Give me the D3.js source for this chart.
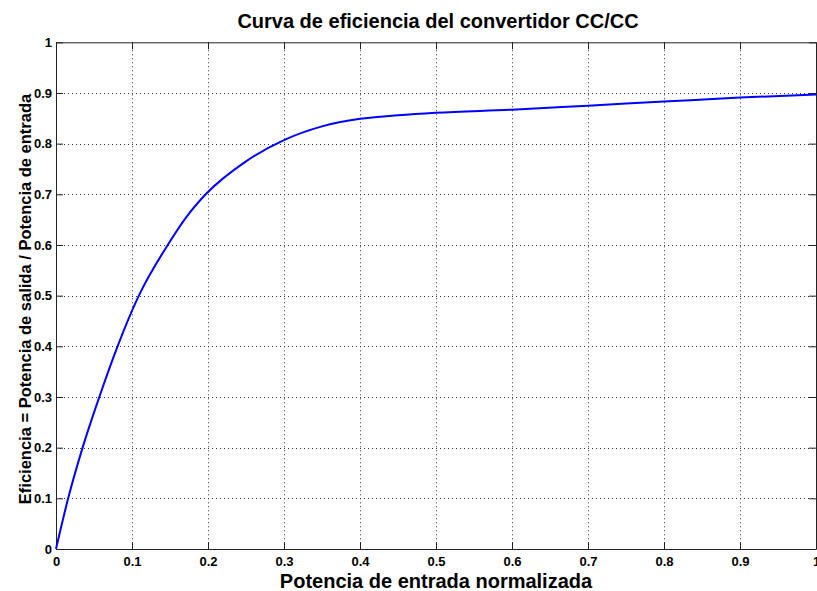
<!DOCTYPE html>
<html>
<head>
<meta charset="utf-8">
<script src="https://cdn.jsdelivr.net/npm/d3@7"></script>
<style>
  body { margin: 0; background: #fff; }
  svg { display: block; font-family: Arial, "Liberation Sans", sans-serif; }
</style>
</head>
<body>
<svg id="chart" width="817" height="591"></svg>
<script>
// normalized input power and efficiency
const potencia = [0, 0.016, 0.035, 0.057, 0.081, 0.109, 0.147, 0.172, 0.197, 0.25, 0.3, 0.35, 0.4, 0.45, 0.5, 0.6, 0.7, 0.8, 0.9, 1.0];
const eficiencia = [0, 0.1, 0.2, 0.3, 0.4, 0.5, 0.6, 0.656, 0.7, 0.765, 0.807, 0.834, 0.849, 0.856, 0.861, 0.867, 0.875, 0.883, 0.891, 0.897];

const xTicks = [0, 0.1, 0.2, 0.3, 0.4, 0.5, 0.6, 0.7, 0.8, 0.9, 1];
const yTicks = [0, 0.1, 0.2, 0.3, 0.4, 0.5, 0.6, 0.7, 0.8, 0.9, 1];

const titulo = "Curva de eficiencia del convertidor CC/CC";
const xLabel = "Potencia de entrada normalizada";
const yLabel = "Eficiencia = Potencia de salida / Potencia de entrada";

const svg = d3.select("#chart");
const mLeft = 56, mRight = 816, mTop = 42.3, mBottom = 549;

const x = d3.scaleLinear().domain([0, 1]).range([mLeft, mRight]);
const y = d3.scaleLinear().domain([0, 1]).range([mBottom, mTop]);

// grid
const grid = svg.append("g")
  .attr("stroke", "#333")
  .attr("stroke-width", 1)
  .attr("stroke-dasharray", "1,3");

grid.selectAll(".vg")
  .data(xTicks.slice(1, -1))
  .enter().append("line")
  .attr("x1", d => Math.round(x(d)) + 0.5).attr("x2", d => Math.round(x(d)) + 0.5)
  .attr("y1", mTop).attr("y2", mBottom);

grid.selectAll(".hg")
  .data(yTicks.slice(1, -1))
  .enter().append("line")
  .attr("y1", d => Math.round(y(d)) + 0.5).attr("y2", d => Math.round(y(d)) + 0.5)
  .attr("x1", mLeft).attr("x2", mRight);

// axes with inward ticks
const tickFmt = d => d3.format("")(d);

svg.append("g")
  .attr("transform", "translate(0," + mBottom + ")")
  .call(d3.axisBottom(x).tickValues(xTicks).tickFormat(tickFmt).tickSizeInner(-7).tickSizeOuter(0).tickPadding(8));

svg.append("g")
  .attr("transform", "translate(0," + mTop + ")")
  .call(d3.axisTop(x).tickValues(xTicks).tickFormat("").tickSizeInner(-7).tickSizeOuter(0));

svg.append("g")
  .attr("transform", "translate(" + mLeft + ",0)")
  .call(d3.axisLeft(y).tickValues(yTicks).tickFormat(tickFmt).tickSizeInner(-7).tickSizeOuter(0).tickPadding(4));

svg.append("g")
  .attr("transform", "translate(" + mRight + ",0)")
  .call(d3.axisRight(y).tickValues(yTicks).tickFormat("").tickSizeInner(-7).tickSizeOuter(0));

svg.selectAll(".domain").attr("stroke", "#222");
svg.selectAll(".tick line").attr("stroke", "#222");
svg.selectAll(".tick text")
  .attr("fill", "#000")
  .attr("font-size", 13)
  .attr("font-weight", "bold")
  .attr("font-family", "Arial, 'Liberation Sans', sans-serif");

// curve
const pts = potencia.map((p, i) => [p, eficiencia[i]]);
svg.append("path")
  .datum(pts)
  .attr("fill", "none")
  .attr("stroke", "#0000ff")
  .attr("stroke-width", 2)
  .attr("d", d3.line().x(d => x(d[0])).y(d => y(d[1])).curve(d3.curveMonotoneX));

// titles
svg.append("text")
  .attr("x", 438).attr("y", 28)
  .attr("text-anchor", "middle")
  .attr("font-size", 20).attr("font-weight", "bold")
  .text(titulo);

svg.append("text")
  .attr("x", 436).attr("y", 588)
  .attr("text-anchor", "middle")
  .attr("font-size", 20).attr("font-weight", "bold")
  .text(xLabel);

svg.append("text")
  .attr("transform", "translate(31,299) rotate(-90)")
  .attr("text-anchor", "middle")
  .attr("font-size", 16.5).attr("font-weight", "bold")
  .text(yLabel);
</script>
</body>
</html>
